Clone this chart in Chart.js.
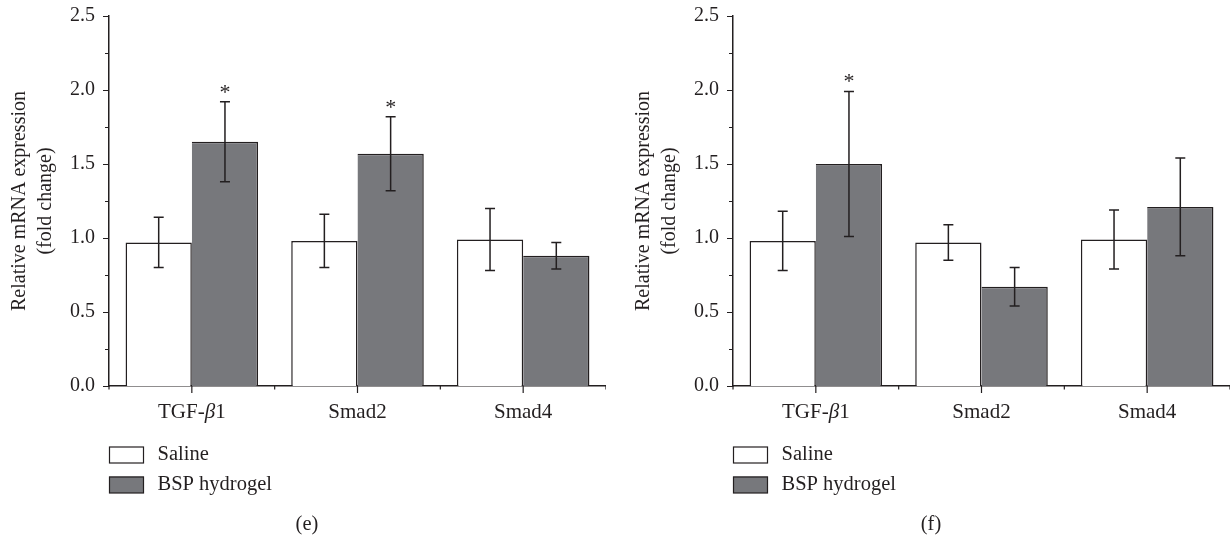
<!DOCTYPE html>
<html>
<head>
<meta charset="utf-8">
<script src="https://cdn.jsdelivr.net/npm/chart.js@4.4.1/dist/chart.umd.min.js"></script>
<style>
  body { margin: 0; background: #fff; }
  .panel { position: absolute; top: 0; width: 606px; height: 539px; }
  #panelE { left: 0; }
  #panelF { left: 624px; }
</style>
</head>
<body>
<div class="panel" id="panelE"><canvas id="chartE"></canvas></div>
<div class="panel" id="panelF"><canvas id="chartF"></canvas></div>
<script>
const genes = ["TGF-β1", "Smad2", "Smad4"];
const groups = ["Saline", "BSP hydrogel"];
const yTicks = [0, 0.5, 1.0, 1.5, 2.0, 2.5];

// panel (e)
const salineE = [0.97, 0.98, 0.99];
const salineErrE = [0.17, 0.18, 0.21];
const bspE = [1.65, 1.57, 0.88];
const bspErrE = [0.27, 0.25, 0.09];
const starsE = [true, true, false];

// panel (f)
const salineF = [0.98, 0.97, 0.99];
const salineErrF = [0.20, 0.12, 0.20];
const bspF = [1.50, 0.67, 1.21];
const bspErrF = [0.49, 0.13, 0.33];
const starsF = [true, false, false];

const ink = "#231f20";
const grayFill = "#77787c";
const serif = "'Liberation Serif', 'Times New Roman', serif";

// draws a label where the greek beta is italic
function drawMixed(ctx, text, cx, cy, size) {
	const parts = text.split(/(β)/).filter(p => p.length);
	let total = 0;
	const widths = parts.map(p => {
		ctx.font = (p === "β" ? "italic " : "") + size + "px " + serif;
		const w = ctx.measureText(p).width;
		total += w;
		return w;
	});
	let x = cx - total / 2;
	ctx.textAlign = "left";
	ctx.textBaseline = "middle";
	parts.forEach((p, i) => {
		ctx.font = (p === "β" ? "italic " : "") + size + "px " + serif;
		ctx.fillText(p, x, cy);
		x += widths[i];
	});
}

const extras = {
	id: "extras",
	afterDatasetsDraw(chart, args, opts) {
		const ctx = chart.ctx;
		const y = chart.scales.y;
		ctx.save();
		ctx.strokeStyle = ink;
		ctx.lineWidth = 1.5;
		chart.data.datasets.forEach((ds, di) => {
			const meta = chart.getDatasetMeta(di);
			meta.data.forEach((bar, i) => {
				const v = ds.data[i], e = ds.errors[i];
				const top = y.getPixelForValue(v + e);
				const bot = y.getPixelForValue(v - e);
				ctx.beginPath();
				ctx.moveTo(bar.x, top); ctx.lineTo(bar.x, bot);
				ctx.moveTo(bar.x - 5, top); ctx.lineTo(bar.x + 5, top);
				ctx.moveTo(bar.x - 5, bot); ctx.lineTo(bar.x + 5, bot);
				ctx.stroke();
				if (ds.stars && ds.stars[i]) {
					ctx.fillStyle = ink;
					ctx.font = "22px " + serif;
					ctx.textAlign = "center";
					ctx.textBaseline = "alphabetic";
					ctx.fillText("*", bar.x, top - 3);
				}
			});
		});
		ctx.restore();
	},
	afterDraw(chart, args, opts) {
		const ctx = chart.ctx;
		const xs = chart.scales.x, ys = chart.scales.y;
		const area = chart.chartArea;
		ctx.save();
		ctx.strokeStyle = ink;
		ctx.lineWidth = 1.2;
		ctx.beginPath();
		// y ticks, minor every 0.25
		for (let v = 0; v <= 2.5001; v += 0.25) {
			const py = Math.round(ys.getPixelForValue(v)) + 0.5;
			const len = Math.abs(v * 2 - Math.round(v * 2)) < 1e-6 ? 6 : 4;
			ctx.moveTo(area.left - len, py); ctx.lineTo(area.left, py);
		}
		// x ticks: major at centres, minor at category edges
		const n = chart.data.labels.length;
		for (let i = 0; i <= n; i++) {
			const px = xs.getPixelForValue(i - 0.5);
			ctx.moveTo(px, area.bottom); ctx.lineTo(px, area.bottom + 3.5);
		}
		for (let i = 0; i < n; i++) {
			const px = xs.getPixelForTick(i);
			ctx.moveTo(px, area.bottom); ctx.lineTo(px, area.bottom + 7);
		}
		ctx.stroke();

		ctx.fillStyle = ink;
		chart.data.labels.forEach((lab, i) => {
			drawMixed(ctx, lab, xs.getPixelForTick(i), area.bottom + 26, 21);
		});

		// legend, stacked under the axis
		ctx.lineWidth = 1.2;
		chart.data.datasets.forEach((ds, di) => {
			const by = area.bottom + 60.5 + di * 30;
			ctx.fillStyle = ds.backgroundColor;
			ctx.fillRect(area.left, by, 35, 16.5);
			ctx.strokeRect(area.left + 0.5, by + 0.5, 34, 16);
			ctx.fillStyle = ink;
			ctx.font = "20.5px " + serif;
			ctx.textAlign = "left";
			ctx.textBaseline = "middle";
			ctx.fillText(ds.label, area.left + 48.5, by + 8.5);
		});

		// panel caption
		ctx.font = "20.5px " + serif;
		ctx.textAlign = "center";
		ctx.textBaseline = "middle";
		ctx.fillText(opts.caption, 307, 525);
		ctx.restore();
	}
};

function makeChart(id, saline, salineErr, bsp, bspErr, stars, caption) {
	return new Chart(document.getElementById(id), {
		type: "bar",
		data: {
			labels: genes,
			datasets: [
				{
					label: groups[0],
					data: saline,
					errors: salineErr,
					backgroundColor: "#ffffff",
					borderColor: ink,
					borderWidth: { left: 1.5, top: 1.5, right: 1.5, bottom: 0 },
					borderSkipped: false,
					categoryPercentage: 0.8,
					barPercentage: 1.0,
				},
				{
					label: groups[1],
					data: bsp,
					errors: bspErr,
					stars: stars,
					backgroundColor: grayFill,
					borderColor: ink,
					borderWidth: { left: 0, top: 1.5, right: 1.5, bottom: 0 },
					borderSkipped: false,
					categoryPercentage: 0.8,
					barPercentage: 1.0,
				},
			],
		},
		options: {
			responsive: true,
			maintainAspectRatio: false,
			animation: false,
			layout: { padding: { top: 16, right: 0, bottom: 123, left: 0 } },
			plugins: {
				legend: { display: false },
				tooltip: { enabled: false },
				extras: { caption: caption },
			},
			scales: {
				x: {
					offset: true,
					grid: { display: false, drawTicks: false },
					border: { display: true, color: ink, width: 1.5 },
					ticks: { display: false },
					afterFit: s => { s.height = 30; s.paddingLeft = 0; s.paddingRight = 0; },
				},
				y: {
					min: 0,
					max: 2.5,
					afterBuildTicks: s => { s.ticks = yTicks.map(v => ({ value: v })); },
					ticks: {
						callback: v => Number(v).toFixed(1),
						padding: 14,
						color: ink,
						font: { family: serif, size: 20 },
					},
					grid: { display: false, drawTicks: false },
					border: { display: true, color: ink, width: 1.5 },
					title: {
						display: true,
						text: ["Relative mRNA expression", "(fold change)"],
						color: ink,
						font: { family: serif, size: 20, lineHeight: 1.3 },
						padding: { top: 7, bottom: 0 },
					},
					afterFit: s => { s.width = 109; s.paddingTop = 0; s.paddingBottom = 0; },
				},
			},
		},
		plugins: [extras],
	});
}

makeChart("chartE", salineE, salineErrE, bspE, bspErrE, starsE, "(e)");
makeChart("chartF", salineF, salineErrF, bspF, bspErrF, starsF, "(f)");
</script>
</body>
</html>
